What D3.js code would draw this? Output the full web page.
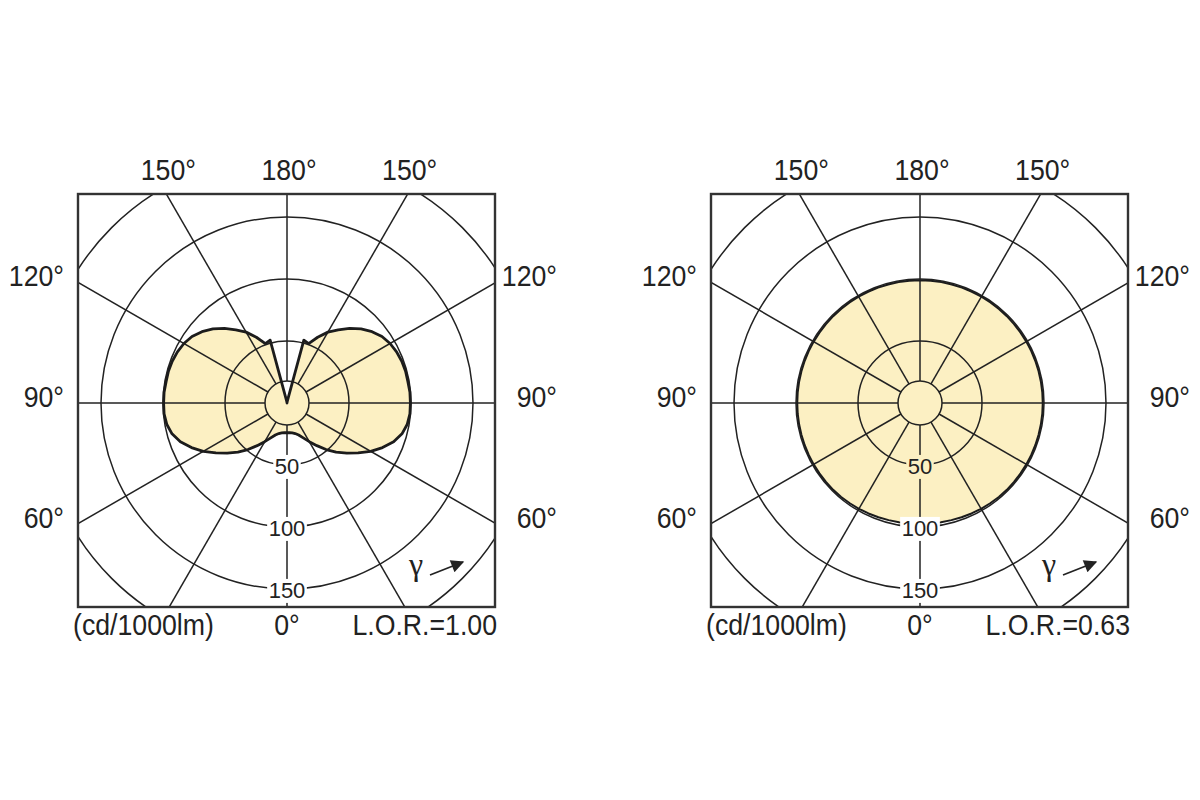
<!DOCTYPE html>
<html>
<head>
<meta charset="utf-8">
<script src="https://cdn.jsdelivr.net/npm/d3@7"></script>
<style>
  html, body { margin: 0; padding: 0; background: #ffffff; }
  svg text { font-family: "Liberation Sans", Arial, sans-serif; fill: #222; }
</style>
</head>
<body>
<svg id="chart" width="1200" height="800"></svg>
<script>
// ---------- data ----------
const gammaDeg = [0,5,10,15,20,25,30,35,40,45,50,55,60,65,70,75,80,85,90,
                  95,100,105,110,115,120,125,130,135,140,145,150,155,160,165,170,175,180];
// left luminaire (cd/1000lm)
const intensityA = [24,24,24.5,25.5,27.5,31,36,42,49,56,63,70,78,85,91.5,96,98.5,99.5,99.5,
                    99.5,99,99,98.5,97.5,96,93.5,89.5,84.5,78.5,72,66,58.5,51,52.5,1.5,0.5,0];
// right luminaire (cd/1000lm)
const intensityB = [97.5,97.5,97.6,97.8,98,98.3,98.5,98.7,98.9,99,99,99,99,99,99,99,99,99,99,
                    99,99,99,99,99,99,99,99,99,99,99,99,99,99,99,99,99,99];
const gridValues = [50, 100, 150, 200];
const gridLabelValues = [50, 100, 150];
const spokeAngles = [0, 30, 60, 90, 120, 150, 180];
const topTickAngles = [150, 180, 150];
const topTickLabels = ["150°", "180°", "150°"];
const sideTickAngles = [120, 90, 60];
const sideTickLabels = ["120°", "90°", "60°"];
const bottomTickLabel = "0°";
const unitLabel = "(cd/1000lm)";
const lorLabels = ["L.O.R.=1.00", "L.O.R.=0.63"];
const gammaSymbol = "γ";

// ---------- layout ----------
const svg = d3.select("#chart");
const fillColor = "#fcf0c3";
const ink = "#222";
const cy = 403;
const centers = [287, 920];
const outlineWidths = [2.8, 2.0];
const innerR = 22;
const boxL = 209, boxR = 208, boxT = 209, boxB = 204;
const r = d3.scaleLinear().domain([0, 200]).range([0, 248]);
const rad = d => d * Math.PI / 180;

const defs = svg.append("defs");
defs.append("marker").attr("id", "arrowhead")
  .attr("viewBox", "0 0 10 10").attr("refX", 9).attr("refY", 5)
  .attr("markerWidth", 15).attr("markerHeight", 13).attr("markerUnits", "userSpaceOnUse")
  .attr("orient", "auto")
  .append("path").attr("d", "M0,0 L10,5 L0,10 Z").attr("fill", ink);

function condensedText(g, x, y, txt, anchor) {
  const sx = 0.89;
  return g.append("text")
    .attr("transform", `translate(${x},${y}) scale(${sx},1)`)
    .attr("text-anchor", anchor)
    .style("font-size", "30px")
    .text(txt);
}

function drawChart(idx, values, lor) {
  const cx = centers[idx];
  const g = svg.append("g");
  const clipId = "clip" + idx;
  defs.append("clipPath").attr("id", clipId).append("rect")
    .attr("x", cx - boxL).attr("y", cy - boxT)
    .attr("width", boxL + boxR).attr("height", boxT + boxB);

  const plot = g.append("g").attr("transform", `translate(${cx},${cy})`);

  // shape (symmetric about vertical axis); gamma 0 points down
  const pts = [];
  gammaDeg.forEach((gm, i) => pts.push([Math.PI - rad(gm), r(values[i])]));
  for (let i = gammaDeg.length - 2; i >= 1; i--) pts.push([Math.PI + rad(gammaDeg[i]), r(values[i])]);
  const line = d3.lineRadial().angle(d => d[0]).radius(d => d[1]).curve(d3.curveLinearClosed);

  plot.append("path").attr("d", line(pts)).attr("fill", fillColor).attr("stroke", "none");

  const grid = g.append("g").attr("clip-path", `url(#${clipId})`)
    .append("g").attr("transform", `translate(${cx},${cy})`);

  grid.selectAll("circle.grid").data(gridValues).join("circle")
    .attr("r", d => r(d)).attr("fill", "none").attr("stroke", ink).attr("stroke-width", 1.5);
  grid.append("circle").attr("r", innerR).attr("fill", "none").attr("stroke", ink).attr("stroke-width", 1.5);

  const far = 400;
  const spokeDirs = [];
  spokeAngles.forEach(a => {
    spokeDirs.push(Math.PI - rad(a));
    if (a !== 0 && a !== 180) spokeDirs.push(Math.PI + rad(a));
  });
  grid.selectAll("line.spoke").data(spokeDirs).join("line")
    .attr("x1", a => innerR * Math.sin(a)).attr("y1", a => -innerR * Math.cos(a))
    .attr("x2", a => far * Math.sin(a)).attr("y2", a => -far * Math.cos(a))
    .attr("stroke", ink).attr("stroke-width", 1.5);

  const plotTop = g.append("g").attr("transform", `translate(${cx},${cy})`);
  plotTop.append("path").attr("d", line(pts)).attr("fill", "none")
    .attr("stroke", "#1c1c1c").attr("stroke-width", outlineWidths[idx]).attr("stroke-linejoin", "round");

  // radial value labels with background patch
  gridLabelValues.forEach(v => {
    const y = r(v) + 1;
    const inside = v < values[0];
    const t = plotTop.append("text").attr("x", 0).attr("y", y).attr("dy", "0.36em")
      .attr("text-anchor", "middle").style("font-size", "22px").text(v);
    const bb = t.node().getBBox();
    plotTop.insert("rect", "text")
      .attr("x", bb.x - 1.5).attr("y", bb.y + 1)
      .attr("width", bb.width + 3).attr("height", bb.height - 1)
      .attr("fill", inside ? fillColor : "#ffffff");
  });

  // frame
  g.append("rect").attr("x", cx - boxL).attr("y", cy - boxT)
    .attr("width", boxL + boxR).attr("height", boxT + boxB)
    .attr("fill", "none").attr("stroke", "#333").attr("stroke-width", 2.4);

  // top angle labels at spoke / top edge crossings
  topTickAngles.forEach((a, i) => {
    const side = i === 0 ? -1 : 1;
    const dx = side * boxT * Math.tan(rad(180 - a));
    condensedText(g, cx + dx + 2, cy - boxT - 14, topTickLabels[i], "middle");
  });
  // side labels at spoke / side edge crossings
  sideTickAngles.forEach((a, i) => {
    const dy = boxL / Math.tan(rad(a));
    const yy = cy + (Math.abs(dy) < 1e-6 ? 0 : dy) + 4;
    condensedText(g, cx - boxL - 14, yy, sideTickLabels[i], "end");
    condensedText(g, cx + boxR + 62, yy, sideTickLabels[i], "end");
  });
  const by = cy + boxB + 28;
  condensedText(g, cx - boxL - 5, by, unitLabel, "start");
  condensedText(g, cx, by, bottomTickLabel, "middle");
  condensedText(g, cx + boxR + 2, by, lor, "end");

  // gamma arrow
  g.append("text").attr("x", cx + 122).attr("y", cy + 172)
    .style("font-family", "'Liberation Serif', 'DejaVu Serif', serif")
    .style("font-size", "32px").text(gammaSymbol);
  g.append("line").attr("x1", cx + 143).attr("y1", cy + 172)
    .attr("x2", cx + 176).attr("y2", cy + 159)
    .attr("stroke", ink).attr("stroke-width", 1.7).attr("marker-end", "url(#arrowhead)");
}

drawChart(0, intensityA, lorLabels[0]);
drawChart(1, intensityB, lorLabels[1]);
</script>
</body>
</html>
